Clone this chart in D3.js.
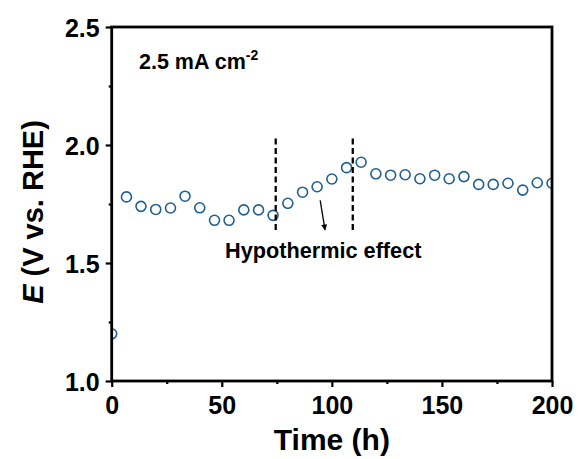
<!DOCTYPE html>
<html><head><meta charset="utf-8">
<script src="https://cdn.jsdelivr.net/npm/d3@7"></script>
<style>body{margin:0;background:#fff}svg{display:block}text{font-family:Arial,"Liberation Sans",Helvetica,sans-serif;font-weight:bold;fill:#000}</style>
</head><body>
<script>
const times = [0, 6.7, 13.3, 20, 26.7, 33.3, 40, 46.7, 53.3, 60, 66.7, 73.3, 80, 86.7, 93.3, 100, 106.7, 113.3, 120, 126.7, 133.3, 140, 146.7, 153.3, 160, 166.7, 173.3, 180, 186.7, 193.3, 200];
const potentials = [1.20, 1.78, 1.74, 1.727, 1.733, 1.783, 1.734, 1.681, 1.681, 1.725, 1.725, 1.702, 1.753, 1.80, 1.823, 1.856, 1.904, 1.927, 1.878, 1.872, 1.874, 1.857, 1.872, 1.857, 1.866, 1.833, 1.833, 1.838, 1.809, 1.840, 1.838];
const xTicks = [0, 50, 100, 150, 200];
const xMinorTicks = [25, 75, 125, 175];
const yTicks = [1.0, 1.5, 2.0, 2.5];
const yMinorTicks = [1.25, 1.75, 2.25];
const dashedTimes = [74.5, 109.5];
const dashedRange = [1.64, 2.028];
const arrowFrom = [94.7, 1.765];
const arrowTo = [96.9, 1.64];
const annotation = "Hypothermic effect";
const currentLabel = ["2.5 mA cm", "-2"];

const W = 579, H = 459;
const m = {left: 111.7, right: 552, top: 27, bottom: 381};
const svg = d3.select("body").append("svg").attr("width", W).attr("height", H);
const x = d3.scaleLinear().domain([0, 200]).range([m.left, m.right]);
const y = d3.scaleLinear().domain([1.0, 2.5]).range([m.bottom, m.top]);

const defs = svg.append("defs");
defs.append("clipPath").attr("id", "clip")
  .append("rect").attr("x", m.left).attr("y", m.top).attr("width", m.right - m.left).attr("height", m.bottom - m.top);
defs.append("marker").attr("id", "ah").attr("viewBox", "0 0 10 10").attr("refX", 9).attr("refY", 5)
  .attr("markerWidth", 9).attr("markerHeight", 6).attr("markerUnits", "userSpaceOnUse").attr("orient", "auto")
  .append("path").attr("d", "M0,0 L10,5 L0,10 z").attr("fill", "#000");

// points
svg.append("g").attr("clip-path", "url(#clip)").selectAll("circle").data(times).join("circle")
  .attr("cx", (d) => x(d)).attr("cy", (d, i) => y(potentials[i])).attr("r", 5)
  .attr("fill", "#fff").attr("stroke", "#1f5f91").attr("stroke-width", 1.6);

// dashed lines
svg.append("g").selectAll("line").data(dashedTimes).join("line")
  .attr("x1", d => x(d)).attr("x2", d => x(d)).attr("y1", y(dashedRange[1])).attr("y2", y(dashedRange[0]))
  .attr("stroke", "#000").attr("stroke-width", 2.3).attr("stroke-dasharray", "6,3.5");

// arrow
svg.append("line").attr("x1", x(arrowFrom[0])).attr("y1", y(arrowFrom[1])).attr("x2", x(arrowTo[0])).attr("y2", y(arrowTo[1]))
  .attr("stroke", "#000").attr("stroke-width", 1.3).attr("marker-end", "url(#ah)");

// axes
const xAxis = svg.append("g").attr("transform", `translate(0,${m.bottom})`)
  .call(d3.axisBottom(x).tickValues(xTicks).tickSize(6).tickPadding(9).tickFormat(d3.format("d")));
svg.append("g").attr("transform", `translate(0,${m.bottom})`)
  .call(d3.axisBottom(x).tickValues(xMinorTicks).tickSize(3).tickFormat(""));
const yAxis = svg.append("g").attr("transform", `translate(${m.left},0)`)
  .call(d3.axisLeft(y).tickValues(yTicks).tickSize(6).tickPadding(6).tickFormat(d3.format(".1f")));
svg.append("g").attr("transform", `translate(${m.left},0)`)
  .call(d3.axisLeft(y).tickValues(yMinorTicks).tickSize(3).tickFormat(""));
svg.selectAll(".domain").remove();
svg.selectAll(".tick line").attr("stroke", "#000").attr("stroke-width", 2.2);
xAxis.selectAll("text").style("font-size", "25px").style("font-weight", "bold");
yAxis.selectAll("text").style("font-size", "25px").style("font-weight", "bold").attr("dy", "0.36em");

// frame
svg.append("rect").attr("x", m.left).attr("y", m.top).attr("width", m.right - m.left).attr("height", m.bottom - m.top)
  .attr("fill", "none").attr("stroke", "#000").attr("stroke-width", 2.8);

// axis titles
svg.append("text").attr("x", (m.left + m.right) / 2).attr("y", 450).attr("text-anchor", "middle")
  .style("font-size", "30px").text("Time (h)");
const yt = svg.append("text").attr("transform", `translate(43,${(m.top + m.bottom) / 2 + 8}) rotate(-90)`)
  .attr("text-anchor", "middle").style("font-size", "29px");
yt.append("tspan").style("font-style", "italic").text("E");
yt.append("tspan").text(" (V vs. RHE)");

// annotations
const cl = svg.append("text").attr("x", 139).attr("y", 69).style("font-size", "21.5px");
cl.append("tspan").text(currentLabel[0]);
cl.append("tspan").attr("dy", -9).style("font-size", "14px").text(currentLabel[1]);
svg.append("text").attr("x", 225).attr("y", 257.5).style("font-size", "21.7px").text(annotation);
</script>
</body></html>
